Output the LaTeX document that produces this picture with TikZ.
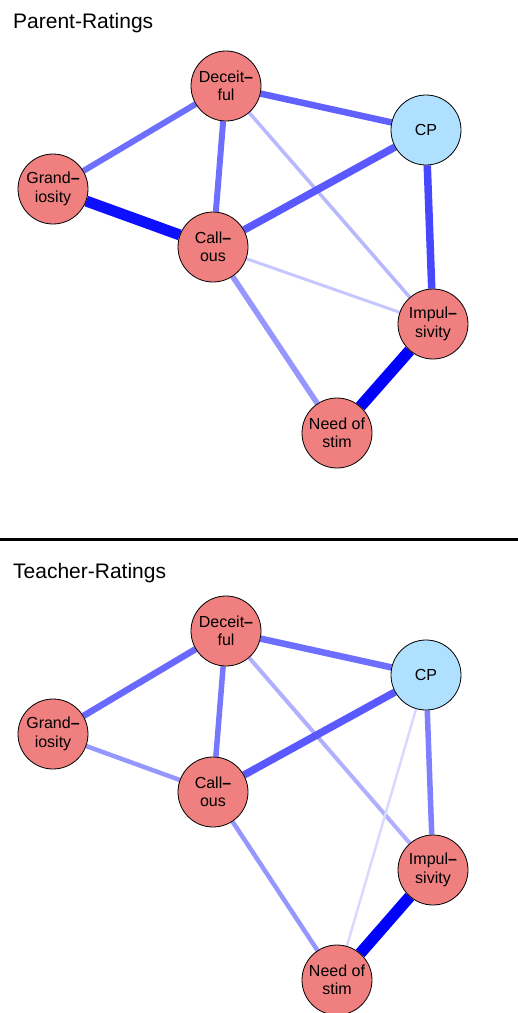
\documentclass[tikz,border=0pt]{standalone}
\usepackage{fontspec}
\setmainfont{Liberation Sans}
\usetikzlibrary{backgrounds,positioning,calc}
\definecolor{symptom red}{RGB}{240,128,128}
\definecolor{outcome blue}{RGB}{176,224,255}
\newcommand{\brk}{\textbf{\textendash}}
\tikzstyle{item}=[align=center, circle, draw=black, line width=0.8pt, minimum size=70pt, inner sep=0pt, font=\fontsize{16}{18.5}\selectfont]
\tikzstyle{symptom}=[item, fill=symptom red]
\tikzstyle{outcome}=[item, fill=outcome blue]
\tikzstyle{title}=[anchor=base west, inner sep=0pt, font=\fontsize{21}{25}\selectfont]
\tikzstyle{my link}=[line cap=butt]

\begin{document}
\begin{tikzpicture}[x=1pt,y=-1pt]
\useasboundingbox (0,0) rectangle (518,1013);

% parent ratings
\draw (13,28) node[title] (ptitle) {Parent-Ratings};

\draw (226,86) node[symptom] (pDeceit) {Deceit\brk\\ful};
\draw (pDeceit) ++(200,44) node[outcome] (pCP) {CP};
\draw (pDeceit) ++(-173,103) node[symptom] (pGrand) {Grand\brk\\iosity};
\draw (pDeceit) ++(-13,161) node[symptom] (pCall) {Call\brk\\ous};
\draw (pDeceit) ++(207,238) node[symptom] (pImp) {Impul\brk\\sivity};
\draw (pDeceit) ++(111,347) node[symptom] (pNeed) {Need of\\stim};

\begin{scope}[on background layer]
\draw[my link, line width=6.5pt, blue!62!white] (pDeceit) -- (pCP);
\draw[my link, line width=6pt, blue!57!white] (pDeceit) -- (pGrand);
\draw[my link, line width=6pt, blue!57!white] (pDeceit) -- (pCall);
\draw[my link, line width=3.5pt, blue!28!white] (pDeceit) -- (pImp);
\draw[my link, line width=7.5pt, blue!65!white] (pCP) -- (pCall);
\draw[my link, line width=7.5pt, blue!72!white] (pCP) -- (pImp);
\draw[my link, line width=11pt, blue!94!white] (pGrand) -- (pCall);
\draw[my link, line width=3pt, blue!22!white] (pCall) -- (pImp);
\draw[my link, line width=5.5pt, blue!41!white] (pCall) -- (pNeed);
\draw[my link, line width=11.5pt, blue] (pImp) -- (pNeed);
\end{scope}

% separator
\coordinate (sepL) at (0,539.5);
\coordinate (sepR) at (518,539.5);
\draw[line width=2.5pt] (sepL) -- (sepR);

% teacher ratings
\draw (13,578) node[title] (ttitle) {Teacher-Ratings};

\draw (226,631) node[symptom] (tDeceit) {Deceit\brk\\ful};
\draw (tDeceit) ++(200,44) node[outcome] (tCP) {CP};
\draw (tDeceit) ++(-173,103) node[symptom] (tGrand) {Grand\brk\\iosity};
\draw (tDeceit) ++(-13,161) node[symptom] (tCall) {Call\brk\\ous};
\draw (tDeceit) ++(207,239) node[symptom] (tImp) {Impul\brk\\sivity};
\draw (tDeceit) ++(111,349) node[symptom] (tNeed) {Need of\\stim};

\begin{scope}[on background layer]
\draw[my link, line width=6.5pt, blue!57!white] (tDeceit) -- (tCP);
\draw[my link, line width=6.5pt, blue!59!white] (tDeceit) -- (tGrand);
\draw[my link, line width=5.5pt, blue!53!white] (tDeceit) -- (tCall);
\draw[my link, line width=4pt, blue!31!white] (tDeceit) -- (tImp);
\draw[my link, line width=4.5pt, blue!41!white] (tGrand) -- (tCall);
\draw[my link, line width=7.5pt, blue!65!white] (tCP) -- (tCall);
\draw[my link, line width=2.5pt, blue!15!white] (tCP) -- (tNeed);
\draw[my link, line width=5.5pt, blue!50!white] (tCP) -- (tImp);
\draw[my link, line width=4.5pt, blue!41!white] (tCall) -- (tNeed);
\draw[my link, line width=11.5pt, blue] (tImp) -- (tNeed);
\end{scope}

\end{tikzpicture}
\end{document}
